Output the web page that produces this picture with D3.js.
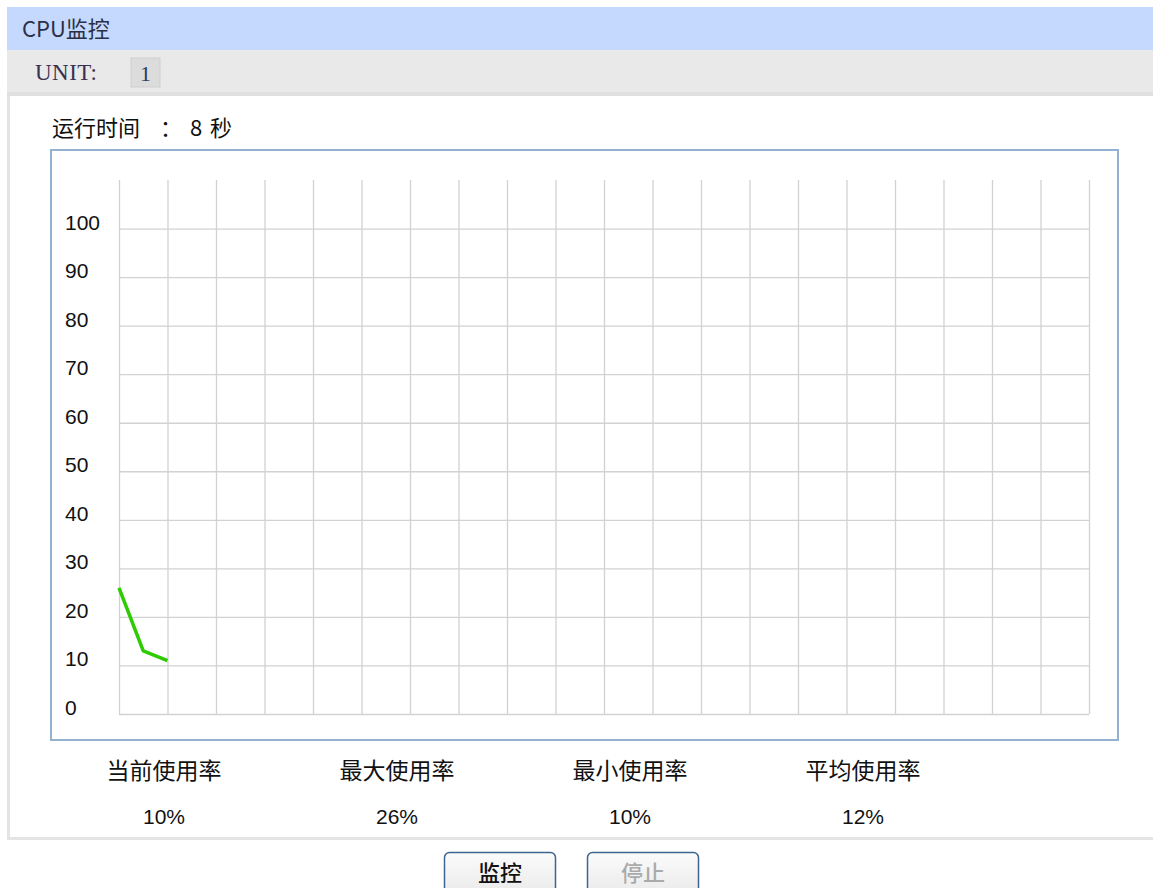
<!DOCTYPE html>
<html>
<head>
<meta charset="utf-8">
<script src="https://cdn.jsdelivr.net/npm/d3@7"></script>
<style>
  html, body { margin: 0; padding: 0; background: #fff; }
  svg { display: block; }
</style>
</head>
<body>
<div id="chart"></div>
<script>
'use strict';

// ---- data ----
var sampleIndex = [0, 1, 2];
var cpuUsage = [26, 13, 11];
var yTicks = [0, 10, 20, 30, 40, 50, 60, 70, 80, 90, 100];
var statLabels = ['当前使用率', '最大使用率', '最小使用率', '平均使用率'];
var statValues = ['10%', '26%', '10%', '12%'];
var runTimeParts = [{ t: '运行时间', x: 52 }, { t: '：', x: 160 }, { t: '8', x: 190 }, { t: '秒', x: 210 }];

var W = 1153, H = 888;
var cjk = '"Noto Sans CJK SC", "Noto Sans", sans-serif';
var arial = '"Liberation Sans", Arial, sans-serif';

var svg = d3.select('#chart').append('svg')
  .attr('width', W)
  .attr('height', H);

// header bands
svg.append('rect').attr('x', 7).attr('y', 7).attr('width', W - 7).attr('height', 43)
  .attr('fill', '#c4d9fd');
svg.append('text').attr('x', 22).attr('y', 37)
  .attr('font-family', cjk).attr('font-size', 22).attr('fill', '#2b2f45')
  .text('CPU监控');

svg.append('rect').attr('x', 7).attr('y', 50).attr('width', W - 7).attr('height', 45)
  .attr('fill', '#e9e9e9');
svg.append('rect').attr('x', 7).attr('y', 92).attr('width', W - 7).attr('height', 4)
  .attr('fill', '#e0e0e0');
svg.append('text').attr('x', 35).attr('y', 80)
  .attr('font-family', '"Liberation Serif", "Times New Roman", serif')
  .attr('font-size', 23).attr('fill', '#3a3050')
  .attr('textLength', 62)
  .text('UNIT:');
svg.append('rect').attr('x', 131).attr('y', 58).attr('width', 29).attr('height', 29)
  .attr('fill', '#dcdcdc').attr('stroke', '#cfcfcf');
svg.append('text').attr('x', 145.5).attr('y', 81).attr('text-anchor', 'middle')
  .attr('font-family', '"Liberation Serif", "Times New Roman", serif')
  .attr('font-size', 22).attr('fill', '#2a3a5a')
  .text('1');

// panel border
svg.append('path')
  .attr('d', 'M8.5,96 V838.5 H' + W)
  .attr('fill', 'none').attr('stroke', '#e4e4e4').attr('stroke-width', 3);

// run time
svg.append('g').selectAll('text').data(runTimeParts).enter().append('text')
  .attr('x', function(d) { return d.x; }).attr('y', 136)
  .attr('font-family', cjk).attr('font-size', 22).attr('fill', '#111')
  .text(function(d) { return d.t; });

// chart frame
svg.append('rect').attr('x', 51).attr('y', 150).attr('width', 1067).attr('height', 590)
  .attr('fill', '#fff').attr('stroke', '#94b1d1').attr('stroke-width', 2);

// scales
var x = d3.scaleLinear().domain([0, 40]).range([119, 1089]);
var y = d3.scaleLinear().domain([0, 110]).range([714, 180]);

var grid = svg.append('g').attr('class', 'grid');
grid.append('g')
  .attr('transform', 'translate(0,714)')
  .call(d3.axisBottom(x).tickValues(d3.range(0, 41, 2)).tickSize(-(714 - 180)).tickFormat(''))
  .call(function(g) { g.select('.domain').remove(); });
grid.append('g')
  .attr('transform', 'translate(119,0)')
  .call(d3.axisLeft(y).tickValues(d3.range(0, 101, 10)).tickSize(-(1089 - 119)).tickFormat(''))
  .call(function(g) { g.select('.domain').remove(); });
grid.selectAll('line').attr('stroke', '#d2d2d2').attr('stroke-width', 1.3);

// y labels
svg.append('g').selectAll('text').data(yTicks).enter().append('text')
  .attr('x', 65)
  .attr('y', function(d) { return y(d) + 1; })
  .attr('font-family', arial).attr('font-size', 21).attr('fill', '#111')
  .text(function(d) { return d; });

// usage line
var line = d3.line()
  .x(function(d, i) { return x(sampleIndex[i]); })
  .y(function(d) { return y(d); });
svg.append('path').datum(cpuUsage)
  .attr('d', line)
  .attr('fill', 'none').attr('stroke', '#2ccc00').attr('stroke-width', 3.5)
  .attr('stroke-linejoin', 'round');

// stats
var sx = d3.scalePoint().domain(d3.range(statLabels.length)).range([164, 863]);
svg.append('g').selectAll('text').data(statLabels).enter().append('text')
  .attr('x', function(d, i) { return sx(i); }).attr('y', 779)
  .attr('text-anchor', 'middle')
  .attr('font-family', cjk).attr('font-size', 23).attr('fill', '#111')
  .text(function(d) { return d; });
svg.append('g').selectAll('text').data(statValues).enter().append('text')
  .attr('x', function(d, i) { return sx(i); }).attr('y', 824)
  .attr('text-anchor', 'middle')
  .attr('font-family', arial).attr('font-size', 21).attr('fill', '#111')
  .text(function(d) { return d; });

// buttons
var defs = svg.append('defs');
var grad = defs.append('linearGradient').attr('id', 'btn').attr('x1', 0).attr('y1', 0).attr('x2', 0).attr('y2', 1);
grad.append('stop').attr('offset', 0).attr('stop-color', '#fbfbfb');
grad.append('stop').attr('offset', 1).attr('stop-color', '#e8e8e8');

var buttons = [{ label: '监控', x: 444, color: '#111' }, { label: '停止', x: 587, color: '#aaa' }];
var b = svg.append('g').selectAll('g').data(buttons).enter().append('g');
b.append('rect')
  .attr('x', function(d) { return d.x + 0.5; }).attr('y', 852.5)
  .attr('width', 111).attr('height', 48).attr('rx', 5)
  .attr('fill', 'url(#btn)').attr('stroke', '#3c6591').attr('stroke-width', 1.5);
b.append('text')
  .attr('x', function(d) { return d.x + 56; }).attr('y', 881)
  .attr('text-anchor', 'middle')
  .attr('font-family', cjk).attr('font-size', 22).attr('font-weight', 500)
  .attr('fill', function(d) { return d.color; })
  .text(function(d) { return d.label; });
</script>
</body>
</html>
